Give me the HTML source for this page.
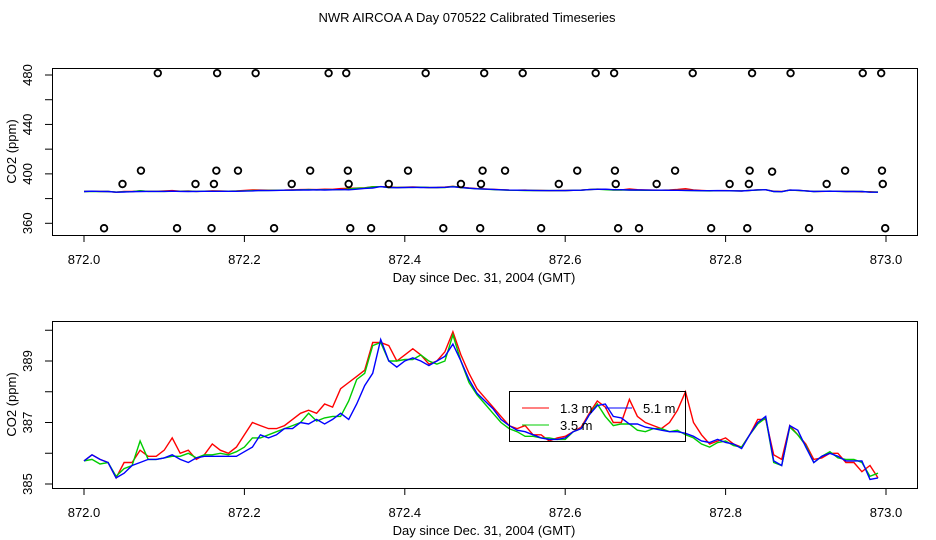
<!DOCTYPE html>
<html><head><meta charset="utf-8"><style>
html,body{margin:0;padding:0;background:#fff;}
svg{display:block;font-family:"Liberation Sans",sans-serif;}
</style></head><body>
<svg id="chart" width="936" height="540" viewBox="0 0 936 540">
<text x="467" y="22" text-anchor="middle" font-size="13">NWR AIRCOA A  Day 070522  Calibrated Timeseries</text>
<g id="top"></g>
<g id="bot"></g>
</svg>
<script>
const days = [];
for (let i = 0; i < 100; i++) days.push(872 + i * 0.01);
const s13 = [385.75,385.95,385.8,385.7,385.2,385.7,385.7,386.1,385.9,385.9,386.1,386.5,386.0,386.1,385.8,385.95,386.3,386.1,386.0,386.2,386.6,387.0,386.9,386.8,386.8,386.9,387.1,387.3,387.4,387.3,387.6,387.5,388.1,388.3,388.5,388.7,389.6,389.6,389.5,389.0,389.2,389.4,389.2,388.9,389.0,389.3,389.95,389.2,388.6,388.1,387.8,387.5,387.2,386.9,386.8,386.9,386.6,386.6,386.4,386.5,386.55,386.7,386.85,387.3,387.7,387.5,387.0,387.0,387.75,387.2,387.0,386.9,386.8,387.0,387.4,388.0,387.0,386.6,386.3,386.4,386.5,386.3,386.2,386.6,387.1,387.1,385.95,385.8,386.9,386.6,386.3,385.8,385.85,386.0,386.0,385.7,385.7,385.4,385.6,385.2];
const s35 = [385.75,385.8,385.65,385.7,385.25,385.5,385.6,386.4,385.8,385.8,385.85,385.9,385.9,386.0,385.85,385.95,385.95,386.0,385.95,386.05,386.2,386.5,386.5,386.6,386.7,386.8,386.9,387.0,387.3,387.05,387.15,387.2,387.2,387.7,388.4,388.6,389.5,389.6,389.0,389.0,389.05,389.05,389.2,389.0,388.9,389.0,389.85,389.0,388.3,387.9,387.6,387.3,387.0,386.8,386.7,386.55,386.55,386.5,386.5,386.45,386.45,386.7,386.8,387.25,387.6,387.2,386.9,386.95,386.95,386.75,386.7,386.8,386.8,386.7,386.75,386.6,386.5,386.3,386.2,386.35,386.4,386.25,386.2,386.6,386.95,387.15,385.7,385.6,386.85,386.6,386.25,385.7,385.9,386.05,385.85,385.8,385.8,385.7,385.25,385.35];
const s51 = [385.75,385.95,385.8,385.7,385.2,385.35,385.6,385.7,385.8,385.8,385.85,385.95,385.8,385.7,385.85,385.9,385.9,385.9,385.9,385.9,386.05,386.2,386.6,386.5,386.6,386.8,386.8,387.0,386.95,387.1,386.95,387.1,387.3,387.1,387.6,388.2,388.6,389.7,389.0,388.8,389.0,389.1,389.0,388.85,389.0,389.15,389.55,389.0,388.4,387.95,387.7,387.45,387.1,386.9,386.75,386.7,386.6,386.5,386.45,386.45,386.5,386.7,386.8,387.25,387.55,387.6,387.2,387.15,386.95,386.95,386.85,386.8,386.75,386.7,386.7,386.65,386.55,386.4,386.35,386.45,386.35,386.3,386.15,386.6,387.0,387.2,385.75,385.6,386.9,386.75,386.2,385.7,385.9,386.0,385.9,385.75,385.75,385.75,385.15,385.2];
const out480Days = [872.092,872.166,872.214,872.305,872.327,872.426,872.499,872.547,872.638,872.661,872.759,872.833,872.881,872.971,872.994];
const out480Vals = [481.5,481.5,481.5,481.5,481.5,481.5,481.5,481.5,481.5,481.5,481.5,481.5,481.5,481.5,481.5];
const out404Days = [872.071,872.165,872.192,872.282,872.329,872.404,872.497,872.525,872.615,872.662,872.737,872.830,872.858,872.949,872.995];
const out404Vals = [402.6,402.6,402.6,402.6,402.6,402.6,402.6,402.6,402.6,402.6,402.6,402.6,401.8,402.6,402.6];
const out393Days = [872.048,872.139,872.162,872.259,872.330,872.380,872.470,872.495,872.592,872.663,872.714,872.805,872.829,872.926,872.996];
const out393Vals = [391.8,391.8,391.8,391.8,391.8,391.8,391.8,391.8,391.8,391.8,391.8,391.8,391.8,391.8,391.8];
const out357Days = [872.025,872.116,872.159,872.237,872.332,872.358,872.448,872.494,872.570,872.666,872.692,872.782,872.827,872.904,872.999];
const out357Vals = [356,356,356,356,356,356,356,356,356,356,356,356,356,356,356];
const topTicks = [360,380,400,420,440,460,480];
const topLabels = [360,400,440,480];
const botTicks = [385,386,387,388,389,390];
const botLabels = [385,387,389];
const xTicks = [872.0,872.2,872.4,872.6,872.8,873.0];

const NS = 'http://www.w3.org/2000/svg';
function mk(parent, tag, attrs, text) {
  const e = document.createElementNS(NS, tag);
  for (const k in attrs) e.setAttribute(k, attrs[k]);
  if (text !== undefined) e.textContent = text;
  parent.appendChild(e);
  return e;
}
const xS = d => 84 + (d - 872) * 802;

function panel(g, top, bottom, yMin, yMax, pxMax, pxMin, ticks, labels) {
  const yS = v => pxMin - (v - yMin) / (yMax - yMin) * (pxMin - pxMax);
  const box = mk(g, 'rect', {x: 52.5, y: top + 0.5, width: 865, height: bottom - top, fill: 'none', stroke: '#000'});
  
  
  xTicks.forEach(t => {
    const l = mk(g, 'line', {x1: xS(t), x2: xS(t), y1: bottom, y2: bottom + 7, stroke: '#000'});
    
    
    const tx = mk(g, 'text', {x: xS(t), y: bottom + 29, 'text-anchor': 'middle', 'font-size': 13}, t.toFixed(1));
    
    
  });
  ticks.forEach(t => {
    const l = mk(g, 'line', {x1: 45, x2: 52, y1: yS(t), y2: yS(t), stroke: '#000'});
    
    
  });
  labels.forEach(t => {
    const tx = mk(g, 'text', {x: 0, y: 0, 'text-anchor': 'middle', 'font-size': 13, transform: `translate(32,${yS(t)}) rotate(-90)`}, String(t));
    
    
  });
  const xl = mk(g, 'text', {x: 484, y: bottom + 47, 'text-anchor': 'middle', 'font-size': 13}, 'Day since Dec. 31, 2004 (GMT)');
  
  
  const yl = mk(g, 'text', {x: 0, y: 0, 'text-anchor': 'middle', 'font-size': 13, transform: `translate(16,${(top + bottom) / 2}) rotate(-90)`}, 'CO2 (ppm)');
  
  
  return yS;
}
function series(g, yS, vals, color, name) {
  const pts = vals.map((v, i) => xS(days[i]).toFixed(1) + ',' + yS(v).toFixed(1)).join(' ');
  const p = mk(g, 'polyline', {points: pts, fill: 'none', stroke: color, 'stroke-width': 1.4});
  
  
}

const gt = document.getElementById('top');
const yT = panel(gt, 68, 235, 360, 480, 75, 223.3, topTicks, topLabels);
series(gt, yT, s13, '#ff0000', 'series-1-3m-top');
series(gt, yT, s35, '#00cc00', 'series-3-5m-top');
series(gt, yT, s51, '#0000ff', 'series-5-1m-top');
[[out480Days,out480Vals],[out404Days,out404Vals],[out393Days,out393Vals],[out357Days,out357Vals]].forEach(([ds,vs]) => {
  ds.forEach((d, i) => {
    const c = mk(gt, 'circle', {cx: xS(d), cy: yT(vs[i]), r: 3.3, fill: 'none', stroke: '#000', 'stroke-width': 1.8});
    
    
  });
});

const gb = document.getElementById('bot');
const yB = panel(gb, 321, 488, 385, 389, 361, 484, botTicks, botLabels);
series(gb, yB, s13, '#ff0000', 'series-1-3m');
series(gb, yB, s35, '#00cc00', 'series-3-5m');
series(gb, yB, s51, '#0000ff', 'series-5-1m');

const lg = mk(gb, 'g', {});


mk(lg, 'rect', {x: 509.5, y: 391.5, width: 176, height: 50, fill: 'none', stroke: '#000'});
const entries = [['#ff0000', '1.3 m', 522, 408], ['#00cc00', '3.5 m', 522, 425], ['#0000ff', '5.1 m', 605, 408]];
entries.forEach(([c, t, x, y]) => {
  const e = mk(lg, 'g', {});
  
  
  mk(e, 'line', {x1: x, x2: x + 27, y1: y, y2: y, stroke: c, 'stroke-width': 1});
  mk(e, 'text', {x: x + 38, y: y + 5, 'font-size': 13}, t);
});
</script>
</body></html>
